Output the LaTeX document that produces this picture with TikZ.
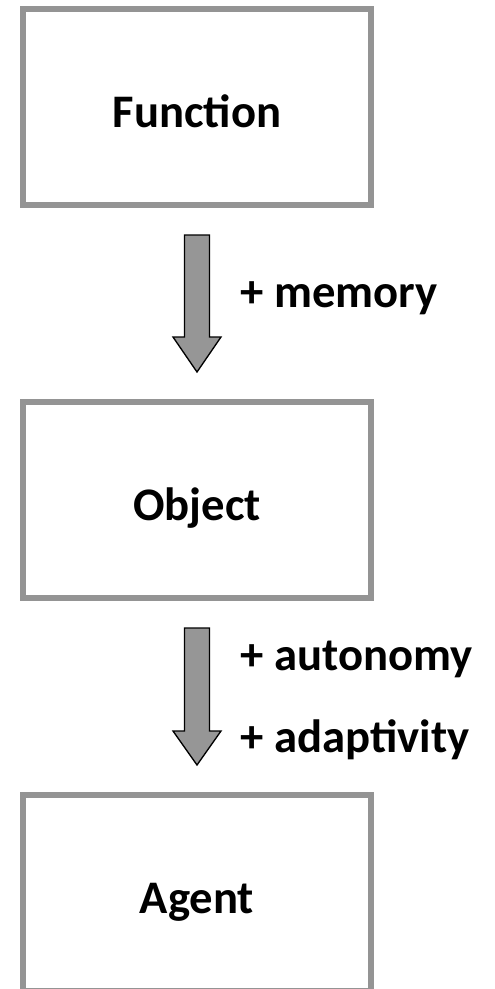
\documentclass[tikz,border=0pt]{standalone}
\usepackage{fontspec}
\setmainfont{Carlito}
\usetikzlibrary{calc}

\definecolor{boxgray}{RGB}{148,148,148}
\definecolor{arrgray}{RGB}{150,150,150}

\tikzset{every picture/.style={line width=0.75pt}}
\tikzset{
	stagebox/.style={draw=boxgray, line width=4.5pt, fill=white, minimum width=261pt, minimum height=147pt, text height=30pt, text depth=0pt, font=\fontsize{35}{42}\selectfont\bfseries},
	steplabel/.style={anchor=base west, inner sep=0pt, font=\fontsize{35}{42}\selectfont\bfseries},
	blockarr/.style={draw=black, fill=arrgray, line width=1pt, line join=miter}
}

\begin{document}
\begin{tikzpicture}[x=0.75pt,y=0.75pt,yscale=-1,xscale=1]
	\useasboundingbox (0,0) rectangle (495,989);
	
	%Shape: Boxes
	\node [stagebox] (function) at (197,107) {Function};
	\node [stagebox] (object) at (197,500) {Object};
	\node [stagebox] (agent) at (197,893) {Agent};
	
	%Arrow ends
	\coordinate (memtop) at ($(function.south)+(0,27)$);
	\coordinate (memtip) at ($(object.north)+(0,-27)$);
	\coordinate (auttop) at ($(object.south)+(0,27)$);
	\coordinate (auttip) at ($(agent.north)+(0,-27)$);
	
	%Block arrow: function -> object
	\draw [blockarr] ($(memtop)+(-12.5,0)$) -- ($(memtop)+(12.5,0)$) -- ($(memtip)+(12.5,-35)$) -- ($(memtip)+(24,-35)$) -- (memtip) -- ($(memtip)+(-24,-35)$) -- ($(memtip)+(-12.5,-35)$) -- cycle ;
	%Block arrow: object -> agent
	\draw [blockarr] ($(auttop)+(-12.5,0)$) -- ($(auttop)+(12.5,0)$) -- ($(auttip)+(12.5,-34)$) -- ($(auttip)+(24,-34)$) -- (auttip) -- ($(auttip)+(-24,-34)$) -- ($(auttip)+(-12.5,-34)$) -- cycle ;
	
	% Text Node
	\node [steplabel] (memory) at (240,307) {+ memory};
	% Text Node
	\node [steplabel] (autonomy) at (240,670) {+ autonomy};
	% Text Node
	\node [steplabel] (adaptivity) at (240,752) {+ adaptivity};
	
\end{tikzpicture}
\end{document}
